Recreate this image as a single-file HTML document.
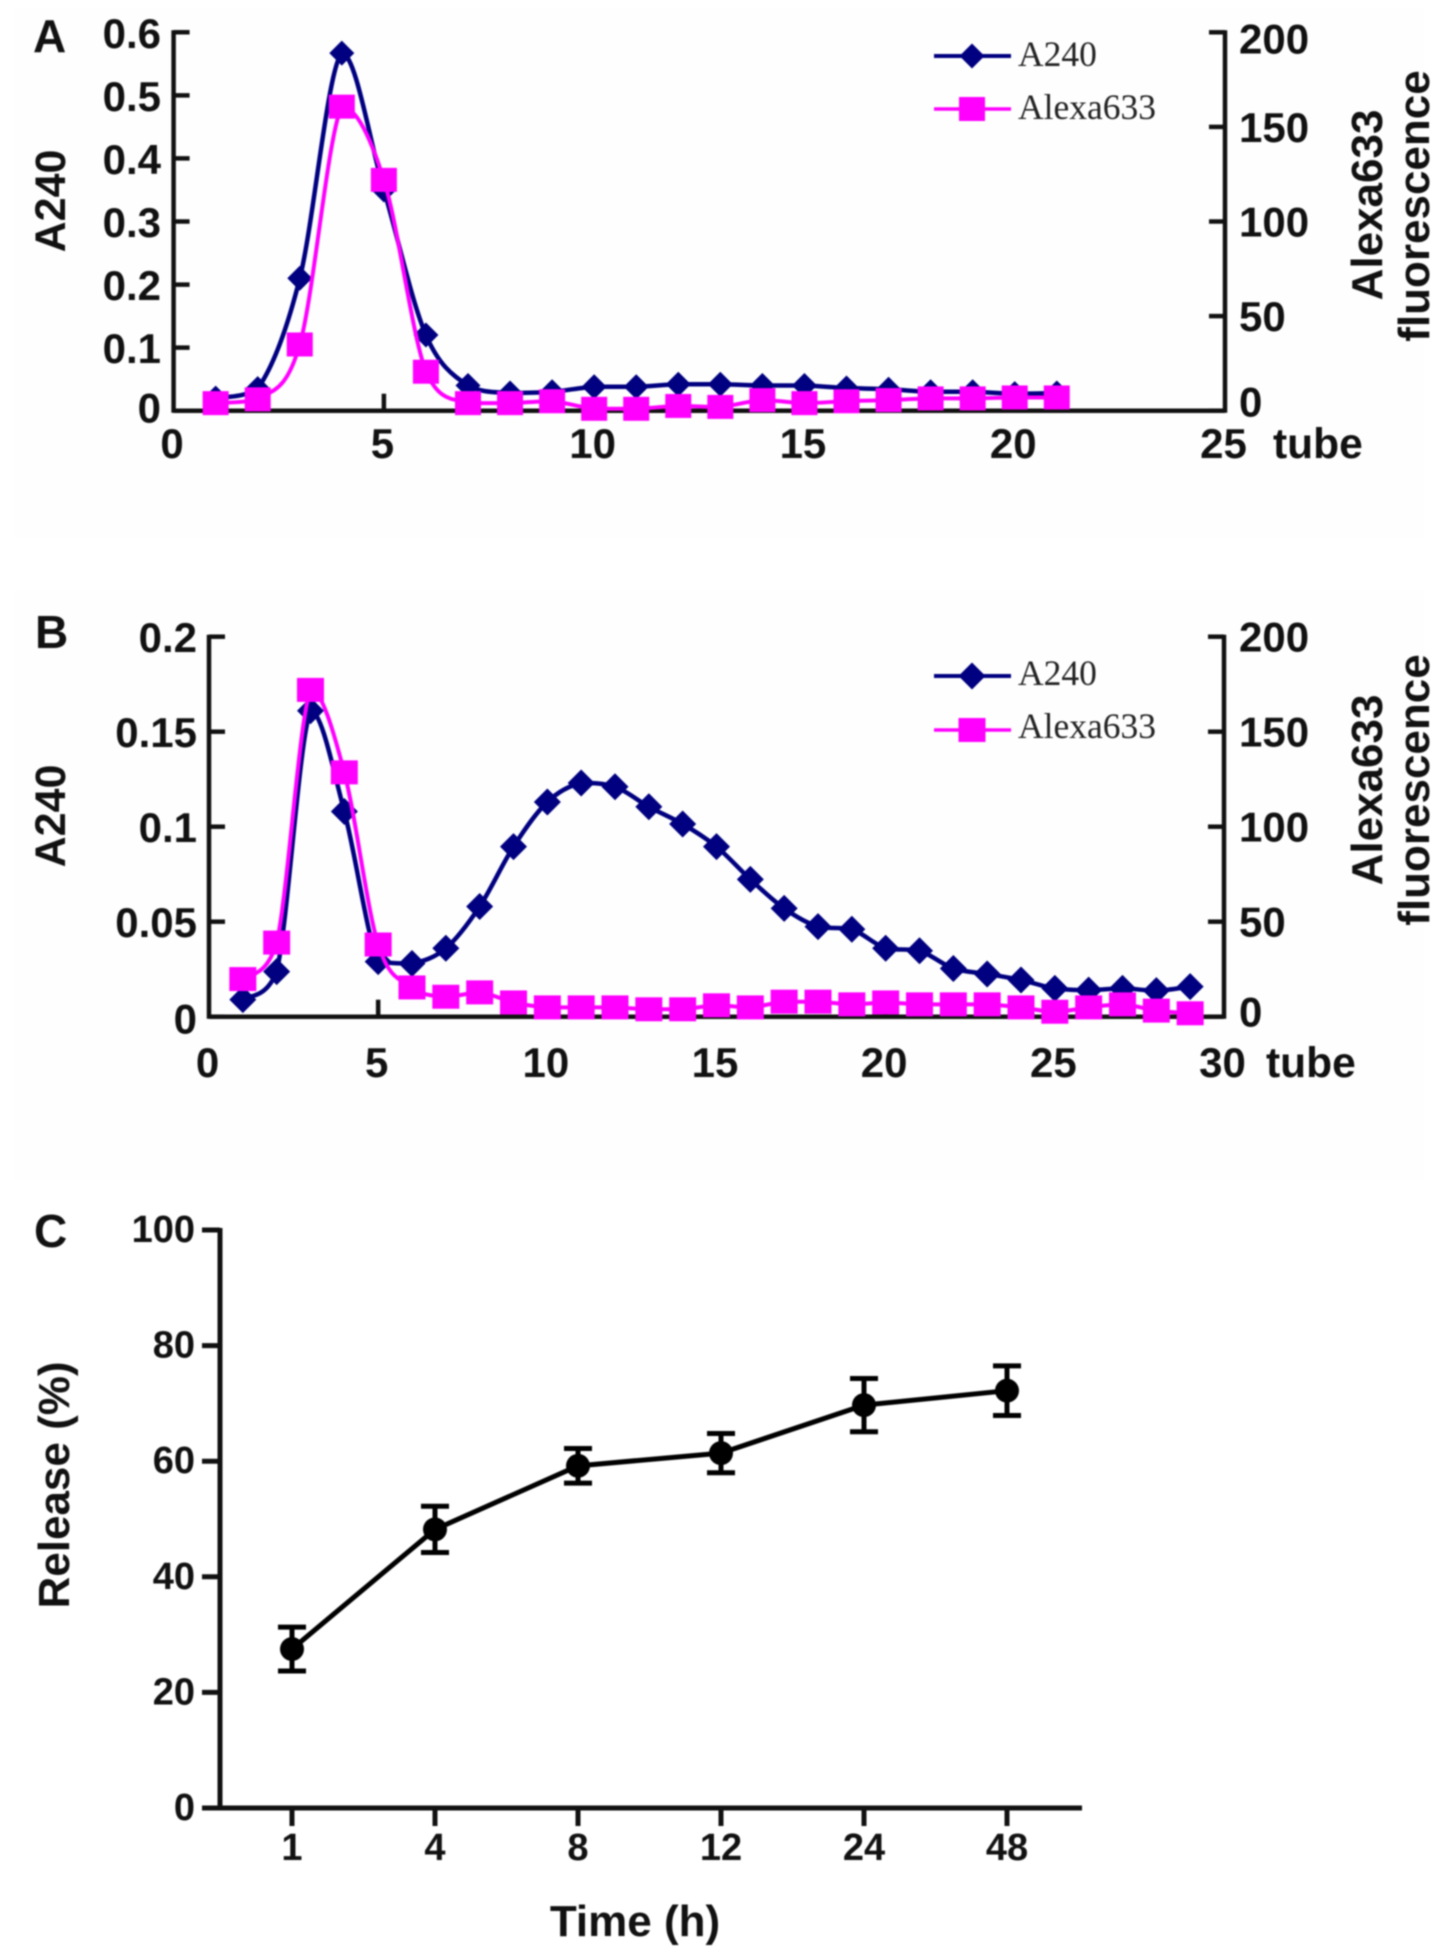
<!DOCTYPE html>
<html lang="en">
<head>
<meta charset="utf-8">
<title>Elution profiles and release curve</title>
<style>
html,body{margin:0;padding:0;background:#fff;}
#figure{display:block;width:1441px;height:1958px;filter:blur(0.8px);}
text{font-family:"Liberation Sans",Arial,sans-serif;font-weight:bold;fill:#111;}
.legend-text{font-family:"Liberation Serif","Times New Roman",serif;font-weight:normal;fill:#222;font-size:35.5px;}
</style>
</head>
<body>
<svg id="figure" xmlns="http://www.w3.org/2000/svg" width="1441" height="1958" viewBox="0 0 1441 1958">
  <rect x="0" y="0" width="1441" height="1958" fill="#ffffff"/>
  <rect x="14" y="8" width="1410" height="530" fill="#fefefe"/>
  <rect x="14" y="590" width="1410" height="590" fill="#fefefe"/>

  <g id="panel-a">
    <text x="33" y="52" font-size="46">A</text>
    <text transform="translate(65 201) rotate(-90)" text-anchor="middle" font-size="43">A240</text>
    <text transform="translate(1382 205) rotate(-90)" text-anchor="middle" font-size="44">Alexa633</text>
    <text transform="translate(1429 206) rotate(-90)" text-anchor="middle" font-size="44">fluorescence</text>
    <text x="1273" y="458" font-size="42.5">tube</text>
    <text x="1018" y="66" class="legend-text">A240</text>
    <text x="1018" y="119" class="legend-text">Alexa633</text>
  </g>

  <g id="panel-b">
    <text x="35" y="648" font-size="46">B</text>
    <text transform="translate(65 816) rotate(-90)" text-anchor="middle" font-size="43">A240</text>
    <text transform="translate(1382 790) rotate(-90)" text-anchor="middle" font-size="44">Alexa633</text>
    <text transform="translate(1429 790) rotate(-90)" text-anchor="middle" font-size="44">fluorescence</text>
    <text x="1266" y="1077" font-size="42.5">tube</text>
    <text x="1018" y="685" class="legend-text">A240</text>
    <text x="1018" y="738" class="legend-text">Alexa633</text>
  </g>

  <g id="panel-c">
    <text x="34" y="1247" font-size="46">C</text>
    <text transform="translate(69 1485) rotate(-90)" text-anchor="middle" font-size="44">Release (%)</text>
    <text x="635" y="1936" text-anchor="middle" font-size="44">Time (h)</text>
  </g>
</svg>

<script>
// Panel A data
const aTubes = [1,2,3,4,5,6,7,8,9,10,11,12,13,14,15,16,17,18,19,20,21];
const aA240 = [0.02,0.035,0.21,0.567,0.35,0.12,0.04,0.028,0.03,0.038,0.038,0.042,0.042,0.04,0.04,0.036,0.034,0.03,0.03,0.027,0.028];
const aAlexa = [4,6,35,160.7,122,20.6,4,4,5,1,1,2.5,2,5.6,4,5,5.6,6.5,6.5,7,7];
const aXTicks = [0,5,10,15,20,25];
const aLeftTicks = [0,0.1,0.2,0.3,0.4,0.5,0.6];
const aRightTicks = [0,50,100,150,200];

// Panel B data
const bTubes = [1,2,3,4,5,6,7,8,9,10,11,12,13,14,15,16,17,18,19,20,21,22,23,24,25,26,27,28,29];
const bA240 = [0.009,0.0237,0.161,0.108,0.029,0.028,0.036,0.058,0.0895,0.113,0.123,0.121,0.1105,0.1014,0.0895,0.0723,0.057,0.0474,0.046,0.036,0.0347,0.0254,0.0225,0.0193,0.0149,0.014,0.0149,0.0137,0.0158];
const bAlexa = [19.8,39,172,128.6,38,15.4,10.5,12.8,7.5,4.9,4.9,4.9,3.9,3.9,6,4.9,7.9,7.9,6.5,7.5,6.5,6.5,6.5,4.9,2.6,4.9,6.5,3.2,1.8];
const bXTicks = [0,5,10,15,20,25,30];
const bLeftTicks = [0,0.05,0.1,0.15,0.2];
const bRightTicks = [0,50,100,150,200];

// Panel C data
const cCategories = ["1","4","8","12","24","48"];
const cRelease = [27.5,48.2,59.2,61.4,69.7,72.2];
const cError = [3.8,4,3,3.4,4.6,4.3];
const cYTicks = [0,20,40,60,80,100];

const NAVY = "#000080";
const MAGENTA = "#ff00ff";
const INK = "#111111";
const SVG_NS = "http://www.w3.org/2000/svg";

function linear(d0, d1, r0, r1) {
  return function (v) { return r0 + (v - d0) * (r1 - r0) / (d1 - d0); };
}
function shape(parent, tag, props) {
  const node = document.createElementNS(SVG_NS, tag);
  Object.keys(props).forEach(function (k) { node.setAttribute(k, props[k]); });
  parent.appendChild(node);
  return node;
}
function rule(parent, x1, y1, x2, y2, width, name, color) {
  const node = shape(parent, "line", {x1: x1, y1: y1, x2: x2, y2: y2, stroke: color || INK, "stroke-width": width});
  
  
  return node;
}
function label(parent, x, y, str, size, anchor, name) {
  const node = shape(parent, "text", {x: x, y: y, "font-size": size, "text-anchor": anchor});
  node.textContent = str;
  
  
  return node;
}
function clampTo(v, a, b) {
  return Math.min(Math.max(v, Math.min(a, b)), Math.max(a, b));
}
function smoothPath(px, py) {
  let d = "M" + px[0].toFixed(1) + " " + py[0].toFixed(1);
  for (let i = 0; i < px.length - 1; i++) {
    const a = Math.max(i - 1, 0), b = Math.min(i + 2, px.length - 1);
    const c1x = px[i] + (px[i + 1] - px[a]) / 6;
    const c1y = clampTo(py[i] + (py[i + 1] - py[a]) / 6, py[i], py[i + 1]);
    const c2x = px[i + 1] - (px[b] - px[i]) / 6;
    const c2y = clampTo(py[i + 1] - (py[b] - py[i]) / 6, py[i], py[i + 1]);
    d += " C" + c1x.toFixed(1) + " " + c1y.toFixed(1) + " " + c2x.toFixed(1) + " " + c2y.toFixed(1) + " " + px[i + 1].toFixed(1) + " " + py[i + 1].toFixed(1);
  }
  return d;
}
function diamond(parent, cx, cy, rx, ry, name) {
  const node = shape(parent, "polygon", {
    points: cx + "," + (cy - ry) + " " + (cx + rx) + "," + cy + " " + cx + "," + (cy + ry) + " " + (cx - rx) + "," + cy,
    fill: NAVY
  });
  
  
}
function square(parent, cx, cy, w, h, name) {
  const node = shape(parent, "rect", {x: cx - w / 2, y: cy - h / 2, width: w, height: h, fill: MAGENTA});
  
  
}
function series(parent, tubes, values, x, y, color, width, prefix, marker) {
  const path = shape(parent, "path", {
    d: smoothPath(tubes.map(x), values.map(y)),
    fill: "none", stroke: color, "stroke-width": width, "stroke-linejoin": "round"
  });
  
  
  tubes.forEach(function (t, i) { marker(parent, x(t), y(values[i]), prefix + '-point-' + t); });
}

function drawElutionPanel(id, cfg) {
  const g = document.getElementById(id);
  const x = linear(cfg.xTicks[0], cfg.xTicks[cfg.xTicks.length - 1], cfg.left, cfg.right);
  const yL = linear(0, cfg.leftTicks[cfg.leftTicks.length - 1], cfg.bottom, cfg.top);
  const yR = linear(0, cfg.rightTicks[cfg.rightTicks.length - 1], cfg.bottom, cfg.top);

  rule(g, cfg.left, cfg.top - 2, cfg.left, cfg.bottom + 2, 4.5, cfg.key + '-left-axis');
  rule(g, cfg.right, cfg.top - 2, cfg.right, cfg.bottom + 2, 4.5, cfg.key + '-right-axis');
  rule(g, cfg.left, cfg.bottom, cfg.right, cfg.bottom, 4.5, cfg.key + '-x-axis');

  cfg.leftTicks.forEach(function (t) {
    rule(g, cfg.left, yL(t), cfg.left + 16, yL(t), 4.5, cfg.key + '-left-tick-' + t);
    const dy = t === 0 ? cfg.leftZeroDy : 15.5;
    label(g, cfg.leftLabelX, yL(t) + dy, String(t), 42, "end", cfg.key + '-left-tick-label-' + t);
  });
  cfg.rightTicks.forEach(function (t) {
    rule(g, cfg.right - 16, yR(t), cfg.right, yR(t), 4.5, cfg.key + '-right-tick-' + t);
    let dy = 15;
    if (t === 0) dy = cfg.rightZeroDy;
    if (t === 200) dy = cfg.rightTopDy;
    label(g, 1239, yR(t) + dy, String(t), 42, "start", cfg.key + '-right-tick-label-' + t);
  });
  cfg.xTicks.forEach(function (t) {
    if (t > 0 && t < cfg.xTicks[cfg.xTicks.length - 1]) {
      rule(g, x(t), cfg.bottom - 17, x(t), cfg.bottom, 4.5, cfg.key + '-x-tick-' + t);
    }
    label(g, x(t) - 1.5, cfg.xLabelY, String(t), 42, "middle", cfg.key + '-x-tick-label-' + t);
  });

  const navyMarker = function (p, cx, cy, name) { diamond(p, cx, cy, cfg.diamondRx, cfg.diamondRy, name); };
  const pinkMarker = function (p, cx, cy, name) { square(p, cx, cy, cfg.squareW, cfg.squareH, name); };
  series(g, cfg.tubes, cfg.a240, x, yL, NAVY, 4.5, cfg.key + '-a240', navyMarker);
  series(g, cfg.tubes, cfg.alexa, x, yR, MAGENTA, 4, cfg.key + '-alexa633', pinkMarker);

  rule(g, 934, cfg.legendY1, 1011, cfg.legendY1, 4, cfg.key + '-legend-a240-line', NAVY);
  navyMarker(g, 972, cfg.legendY1, cfg.key + '-legend-a240-marker');
  rule(g, 934, cfg.legendY2, 1011, cfg.legendY2, 3.5, cfg.key + '-legend-alexa633-line', MAGENTA);
  pinkMarker(g, 972, cfg.legendY2, cfg.key + '-legend-alexa633-marker');
}

drawElutionPanel("panel-a", {
  key: "panel-a", left: 173.6, right: 1225, top: 32.3, bottom: 410.7,
  xTicks: aXTicks, leftTicks: aLeftTicks, rightTicks: aRightTicks,
  tubes: aTubes, a240: aA240, alexa: aAlexa,
  leftLabelX: 161, xLabelY: 458, leftZeroDy: 12, rightZeroDy: 6, rightTopDy: 21,
  legendY1: 56, legendY2: 109,
  diamondRx: 12.5, diamondRy: 12.5, squareW: 26, squareH: 24
});
drawElutionPanel("panel-b", {
  key: "panel-b", left: 209, right: 1224, top: 636.7, bottom: 1016.7,
  xTicks: bXTicks, leftTicks: bLeftTicks, rightTicks: bRightTicks,
  tubes: bTubes, a240: bA240, alexa: bAlexa,
  leftLabelX: 197, xLabelY: 1077, leftZeroDy: 17, rightZeroDy: 10, rightTopDy: 15,
  legendY1: 676, legendY2: 730,
  diamondRx: 13.5, diamondRy: 13.5, squareW: 27, squareH: 24
});

(function drawReleasePanel() {
  const g = document.getElementById("panel-c");
  const left = 220, axisEnd = 1082, top = 1230, bottom = 1808;
  const x = function (i) { return 292 + 143 * i; };
  const y = linear(0, 100, bottom, top);

  rule(g, left, top - 2, left, bottom + 2, 5, 'panel-c-y-axis');
  rule(g, left - 2, bottom, axisEnd, bottom, 5, 'panel-c-x-axis');
  cYTicks.forEach(function (t) {
    rule(g, left - 18, y(t), left, y(t), 5, 'panel-c-y-tick-' + t);
    label(g, 195, y(t) + 12, String(t), 38, "end", 'panel-c-y-tick-label-' + t);
  });
  cCategories.forEach(function (c, i) {
    rule(g, x(i), bottom, x(i), bottom + 18, 5, 'panel-c-x-tick-' + c);
    label(g, x(i), 1860, c, 38, "middle", 'panel-c-x-tick-label-' + c);
  });

  const line = shape(g, "polyline", {
    points: cRelease.map(function (v, i) { return x(i) + "," + y(v); }).join(" "),
    fill: "none", stroke: "#000", "stroke-width": 5, "stroke-linejoin": "round"
  });
  
  

  cRelease.forEach(function (v, i) {
    const hi = y(v + cError[i]), lo = y(v - cError[i]), cx = x(i);
    rule(g, cx, hi, cx, lo, 5, 'release-error-bar-' + cCategories[i], "#000");
    rule(g, cx - 14, hi, cx + 14, hi, 5, 'release-error-cap-upper-' + cCategories[i], "#000");
    rule(g, cx - 14, lo, cx + 14, lo, 5, 'release-error-cap-lower-' + cCategories[i], "#000");
    const dot = shape(g, "circle", {cx: cx, cy: y(v), r: 12, fill: "#000"});
    
    
  });
})();
</script>
</body>
</html>
